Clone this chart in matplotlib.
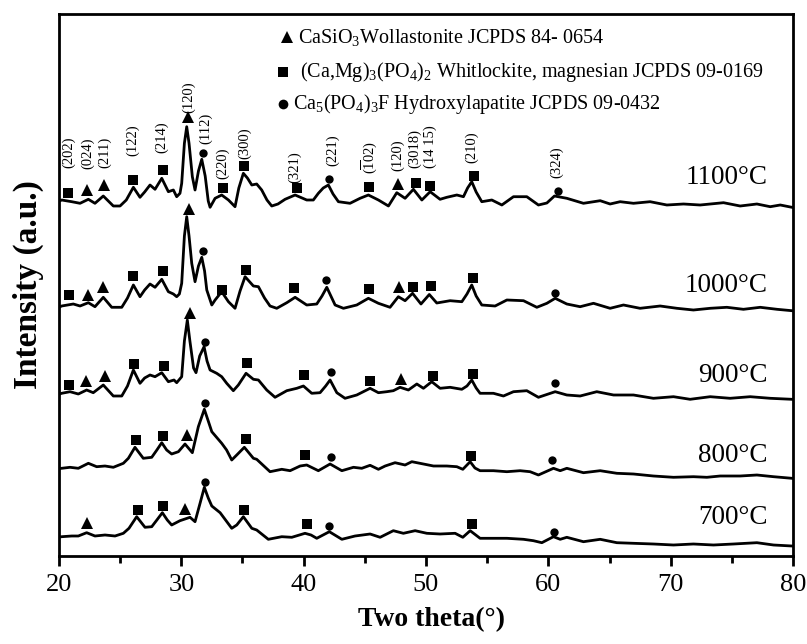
import matplotlib
matplotlib.use("Agg")
import matplotlib.pyplot as plt

plt.rcParams['font.family'] = ['Liberation Serif', 'DejaVu Serif']
plt.rcParams['mathtext.fontset'] = 'custom'
plt.rcParams['mathtext.rm'] = 'Liberation Serif'
plt.rcParams['mathtext.it'] = 'Liberation Serif:italic'
plt.rcParams['mathtext.bf'] = 'Liberation Serif:bold'

# ---------------- data (2theta, offset intensity) ----------------
tt_1100 = [20.05, 20.22, 21.04, 21.72, 22.40, 22.94, 23.62, 24.44, 24.99, 25.5, 26.08, 26.62, 27.0, 27.44, 27.85,
           28.40, 28.94, 29.35, 29.62, 29.89, 30.03, 30.25, 30.44, 30.63, 30.90, 31.12, 31.4, 31.67, 31.95, 32.2,
           32.35, 32.76, 33.30, 33.85, 34.39, 34.7, 35.07, 35.4, 35.76, 36.16, 36.57, 37.0, 37.39, 37.9, 38.48,
           39.30, 40.25, 40.79, 41.20, 41.6, 42.02, 42.4, 42.84, 43.79, 44.61, 45.29, 46.11, 46.93, 47.61, 48.29,
           48.97, 49.66, 50.34, 51.15, 51.70, 52.52, 53.06, 53.4, 53.74, 54.1, 54.56, 55.38, 56.20, 57.15, 58.24,
           59.19, 59.88, 60.50, 61.51, 62.87, 64.24, 65.05, 65.87, 66.96, 68.32, 69.69, 71.05, 72.41, 74.32, 75.68,
           77.05, 78.14, 78.96, 79.91]
I_1100 = [355, 356, 354.3, 352.7, 356.7, 352.7, 360, 350, 350, 356, 368.7, 358.7, 364, 371, 366.7,
          377.7, 364.3, 366, 359.3, 362.7, 372.7, 412.7, 429.3, 412.7, 379.3, 366, 385, 396.7, 380, 355,
          348.7, 357.7, 361, 356, 349.3, 368, 382.7, 378, 371, 372, 366, 356, 350, 352, 356.7,
          361, 356, 356, 362.7, 368, 371, 362, 354.3, 352.7, 357.7, 361, 356, 350, 363.3, 357.7,
          366.7, 356, 364.3, 356.7, 358.7, 361, 359.3, 368, 374.3, 364, 354.3, 356, 351, 359.3, 359.3,
          351, 353, 360, 357.7, 352.7, 355.3, 352, 354.3, 352.7, 354.3, 351, 352, 351, 353.3, 350,
          352, 349.3, 351, 348.7]

tt_1000 = [20.05, 20.22, 21.17, 21.72, 22.40, 22.94, 23.62, 24.31, 25.13, 25.6, 26.08, 26.62, 27.0, 27.44, 27.85,
           28.40, 28.94, 29.35, 29.62, 29.84, 30.03, 30.25, 30.44, 30.63, 30.85, 31.12, 31.4, 31.67, 31.9, 32.08,
           32.49, 32.76, 33.30, 33.85, 34.39, 34.8, 35.21, 35.89, 36.30, 36.8, 37.25, 37.80, 38.62, 39.30, 40.25,
           41.07, 41.5, 41.89, 42.57, 43.25, 44.34, 45.29, 46.11, 47.06, 47.74, 48.29, 48.90, 49.59, 50.27, 50.88,
           51.97, 52.93, 53.35, 53.74, 54.1, 54.56, 55.65, 56.61, 57.97, 59.06, 59.88, 60.56, 61.51, 62.60,
           63.69, 65.05, 66.14, 67.50, 69.14, 70.51, 71.86, 73.23, 74.59, 75.95, 77.32, 78.69, 79.91]
I_1000 = [249, 250, 252, 250, 253.3, 249.3, 258.7, 248.7, 248.7, 258, 271, 259.3, 266, 272, 268.7,
          276.7, 264.3, 262, 259.3, 262, 272.7, 320, 339.3, 320, 292.7, 274.3, 290, 298.7, 285, 266,
          251, 256, 264.3, 254.3, 247.7, 265, 279.3, 270, 269.3, 258, 250, 247.7, 253.3, 258.7, 251,
          252, 260, 268.7, 251, 247.7, 251, 257.7, 252.7, 248.7, 259.3, 255.3, 262.7, 252, 261.5, 253,
          255.3, 254.3, 262, 271, 260, 251, 250, 256, 255.3, 248.7, 252.7, 257.7, 252, 249.3,
          252.7, 247.7, 251, 247.7, 250, 247.7, 246, 247.7, 248.7, 246.7, 248.7, 246.7, 245.3]

tt_900 = [20.05, 20.22, 20.90, 21.58, 22.26, 22.80, 23.62, 24.44, 25.13, 25.6, 26.08, 26.62, 27.0, 27.44, 27.85,
          28.40, 28.94, 29.40, 29.62, 30.03, 30.25, 30.49, 30.7, 31.0, 31.20, 31.5, 31.86, 32.1, 32.35, 32.89,
          33.30, 33.71, 34.25, 34.66, 35.29, 35.89, 36.30, 36.98, 37.66, 38.62, 39.44, 39.98, 40.66, 41.34, 41.8,
          42.16, 42.71, 43.38, 44.34, 45.43, 46.11, 46.79, 47.33, 47.88, 48.56, 49.25, 49.79, 50.47, 51.15, 51.97,
          52.93, 53.35, 53.74, 54.1, 54.42, 55.51, 56.33, 57.15, 58.24, 59.19, 60.56, 61.51, 62.60, 63.96, 65.33,
          66.96, 68.59, 70.23, 71.59, 73.23, 74.86, 76.50, 78.14, 79.91]
I_900 = [162, 162.7, 164.3, 162, 166, 163.3, 171, 160, 160, 170, 186, 172.7, 178, 181, 179.3,
         183.3, 174.3, 176, 173.3, 179.3, 215, 236, 215, 188, 183.3, 200, 209.3, 195, 186, 182.7,
         179.3, 172.7, 165.3, 171, 182.7, 176.7, 176, 166, 158.7, 165.3, 167.7, 170, 162.7, 163.3, 170,
         176, 163.3, 157.7, 161, 167.7, 163.3, 164.3, 165.3, 168.7, 166, 172, 167.7, 174.3, 167.7, 168.7,
         166.7, 170, 176, 168, 162.7, 162.7, 160, 164.3, 165.3, 158.7, 164.3, 161, 160, 164.3, 161,
         161, 157.7, 159.3, 156.7, 159.3, 157.7, 159.3, 157.7, 156.7]

tt_800 = [20.05, 20.22, 20.90, 21.58, 22.40, 23.08, 23.76, 24.44, 25.26, 25.67, 26.21, 26.89, 27.58, 28.0, 28.40,
          28.8, 29.21, 29.76, 30.30, 30.90, 31.39, 31.88, 32.2, 32.49, 33.30, 33.7, 34.12, 34.53, 35.15, 35.89,
          36.16, 37.25, 38.21, 38.89, 39.71, 40.25, 41.20, 42.16, 43.12, 44.07, 44.75, 45.43, 46.11, 46.66, 47.47,
          48.29, 48.84, 49.79, 50.61, 51.70, 52.52, 53.01, 53.61, 54.0, 54.42, 55.51, 56.61, 57.69, 58.51, 59.19,
          60.42, 60.97, 61.51, 62.87, 64.24, 65.60, 66.96, 68.59, 70.23, 71.86, 72.96, 74.05, 75.68, 77.05, 78.41,
          79.91]
I_800 = [87.5, 87.7, 88.7, 87.7, 92.7, 89.3, 90, 88.7, 92.7, 97.7, 108.7, 97.7, 98.7, 106, 113.3,
         106, 102, 104.3, 112, 103.3, 129.3, 146.7, 135, 124.3, 112.7, 106, 96, 101, 108.7, 97.7,
         96.7, 84.3, 86.7, 85.3, 90, 91, 85.3, 92, 85.3, 88.7, 87.7, 90.7, 86.7, 90, 93.3,
         91, 94.3, 92, 90, 90, 89.3, 86.7, 94.3, 88, 85.3, 85.3, 84.3, 85.3, 84.3, 81,
         87.7, 85.3, 87.7, 83.3, 85.3, 82.7, 82, 80, 78.7, 79.3, 78.7, 80, 80, 81, 79.3,
         77.7]

tt_700 = [20.05, 20.22, 21.04, 21.58, 22.26, 22.94, 23.76, 24.58, 25.26, 25.72, 26.35, 27.03, 27.58, 28.0, 28.45,
          28.85, 29.21, 29.89, 30.71, 31.12, 31.53, 31.88, 32.2, 32.49, 33.17, 34.12, 34.53, 35.07, 35.76, 36.16,
          37.11, 38.21, 39.03, 40.11, 40.6, 41.07, 42.10, 43.12, 44.20, 45.43, 46.25, 47.33, 48.15, 49.11, 50.07,
          51.15, 52.38, 53.01, 53.61, 54.42, 55.51, 56.61, 57.97, 58.78, 59.47, 60.42, 60.97, 61.51, 62.87, 64.24,
          65.60, 66.96, 68.59, 70.23, 71.86, 73.50, 75.14, 77.05, 78.41, 79.91]
I_700 = [19, 19.3, 20, 20, 23.3, 20, 21, 20, 22.7, 27.7, 39.3, 28.7, 29.3, 36, 43.3,
         36, 31, 35.3, 38.7, 34.3, 52.7, 68.7, 58, 50, 43.3, 27.7, 31, 39.3, 27.7, 26,
         16.7, 19.3, 18.7, 22.7, 21, 17.7, 24.3, 16.7, 20, 22, 18.7, 25.3, 22.7, 25.3, 22.7,
         22, 22.7, 18.7, 25.3, 17.7, 17.7, 17.7, 16.7, 15.3, 13.3, 19.3, 16.7, 18.7, 14.3, 16.7,
         13.3, 12.7, 12, 11, 12, 11, 12, 13.3, 11, 10]

# phase markers: (2theta, y, symbol)  W = wollastonite (^), T = whitlockite (s), H = apatite (o)
marks_1100 = [(20.76, 362.7, 's'), (22.31, 366, '^'), (23.71, 371, '^'), (26.02, 376, 's'), (28.48, 386, 's'),
              (30.58, 439.3, '^'), (31.75, 403.3, 'o'), (33.38, 368.3, 's'), (35.15, 390, 's'), (39.44, 368.3, 's'),
              (42.10, 376.7, 'o'), (45.37, 369.3, 's'), (47.74, 371.7, '^'), (49.16, 372.7, 's'), (50.34, 370.3, 's'),
              (53.93, 380.3, 's'), (60.83, 365.3, 'o')]
marks_1000 = [(20.82, 261, 's'), (22.40, 261, '^'), (23.62, 268.7, '^'), (26.02, 280, 's'), (28.48, 285.3, 's'),
              (30.65, 346.7, '^'), (31.80, 305.3, 'o'), (33.30, 266, 's'), (35.29, 286, 's'), (39.22, 267.7, 's'),
              (41.83, 276, 'o'), (45.37, 267, 's'), (47.83, 269.3, '^'), (48.97, 268.7, 's'), (50.39, 270.3, 's'),
              (53.82, 277.7, 's'), (60.56, 263.3, 'o')]
marks_900 = [(20.82, 171, 's'), (22.21, 175, '^'), (23.76, 180, '^'), (26.16, 192, 's'), (28.59, 190, 's'),
             (30.71, 243.3, '^'), (31.94, 214.3, 'o'), (35.35, 192.7, 's'), (40.03, 181, 's'), (42.22, 184.3, 'o'),
             (45.43, 175, 's'), (47.94, 177, '^'), (50.56, 180.3, 's'), (53.82, 181.7, 's'), (60.56, 172.7, 'o')]
marks_800 = [(26.27, 116, 's'), (28.48, 120, 's'), (30.49, 121, '^'), (31.94, 153.3, 'o'), (35.26, 116.7, 's'),
             (40.11, 101, 's'), (42.22, 98.7, 'o'), (53.66, 100.3, 's'), (60.34, 96, 'o')]
marks_700 = [(22.26, 33.3, '^'), (26.43, 46, 's'), (28.48, 50, 's'), (30.30, 46.7, '^'), (31.94, 74.3, 'o'),
             (35.15, 46, 's'), (40.25, 32, 's'), (42.10, 30, 'o'), (53.74, 32, 's'), (60.47, 24.3, 'o')]

# Miller indices above the 1100 pattern
hkl_text = ['(202)', '(024)', '(211)', '(122)', '(214)', '(120)', '(112)', '(220)', '(300)', '(321)', '(221)',
            r'$(\overline{1}02)$', '(120)', '(3018)', '(14 15)', '(210)', '(324)']
hkl_tt = [20.76, 22.31, 23.76, 26.03, 28.40, 30.57, 32.02, 33.38, 35.21, 39.30, 42.38, 45.37, 47.69, 49.11,
          50.34, 53.74, 60.70]
hkl_y = [404, 403, 404, 416, 419, 459, 428, 393, 413, 389, 406, 399, 401, 408, 409, 409, 394]

temps = ['1100°C', '1000°C', '900°C', '800°C', '700°C']
temp_y = [379, 270, 181, 101, 38]

legend_labels = [r'CaSiO$_3$Wollastonite JCPDS 84- 0654',
                 r'(Ca,Mg)$_3$(PO$_4$)$_2$ Whitlockite, magnesian JCPDS 09-0169',
                 r'Ca$_5$(PO$_4$)$_3$F Hydroxylapatite JCPDS 09-0432']
legend_syms = ['^', 's', 'o']

# ---------------- figure ----------------
fig = plt.figure(figsize=(8.07, 6.44), dpi=100)
ax = fig.add_axes([59 / 807, 88 / 644, 734 / 807, 542 / 644])

curves = [(tt_1100, I_1100, marks_1100), (tt_1000, I_1000, marks_1000), (tt_900, I_900, marks_900),
          (tt_800, I_800, marks_800), (tt_700, I_700, marks_700)]
msize = {'^': 8, 's': 6.5, 'o': 6}
for tt, ii, mk in curves:
    ax.plot(tt, ii, color='black', lw=2.0, solid_joinstyle='round', zorder=2)
    for x, y, s in mk:
        ax.plot([x], [y], marker=s, color='black', ms=msize[s], mew=0, ls='none', zorder=3)

for t, x, y in zip(hkl_text, hkl_tt, hkl_y):
    ax.text(x, y, t, rotation=90, ha='center', va='center', fontsize=10.5)

for t, y in zip(temps, temp_y):
    ax.text(77.9, y, t, ha='right', va='center', fontsize=19.5)

leg_sym_x = [38.64, 38.32, 38.32]
leg_txt_x = [39.54, 39.71, 39.13]
leg_y = [519, 484, 452]
for s, lab, xs, xt, y in zip(legend_syms, legend_labels, leg_sym_x, leg_txt_x, leg_y):
    ax.plot([xs], [y], marker=s, color='black', ms=msize[s] + 1, mew=0, ls='none')
    ax.text(xt, y, lab, ha='left', va='center', fontsize=14.5)

ax.set_xlim(20, 80)
ax.set_ylim(0, 542)
ax.set_xticks([20, 30, 40, 50, 60, 70, 80])
ax.set_xticks([25, 35, 45, 55, 65, 75], minor=True)
ax.set_yticks([])
ax.tick_params(axis='x', which='major', direction='out', length=7, width=2, labelsize=19, pad=6)
ax.tick_params(axis='x', which='minor', direction='out', length=5, width=2)
for sp in ax.spines.values():
    sp.set_linewidth(2)

fig.text(431 / 807, 1 - 620 / 644, 'Two theta(°)', ha='center', va='center', fontsize=20, fontweight='bold')
fig.text(28 / 807, 1 - 285 / 644, 'Intensity (a.u.)', ha='center', va='center', rotation=90,
         fontsize=24, fontweight='bold')

fig.savefig('out.png', dpi=100)
